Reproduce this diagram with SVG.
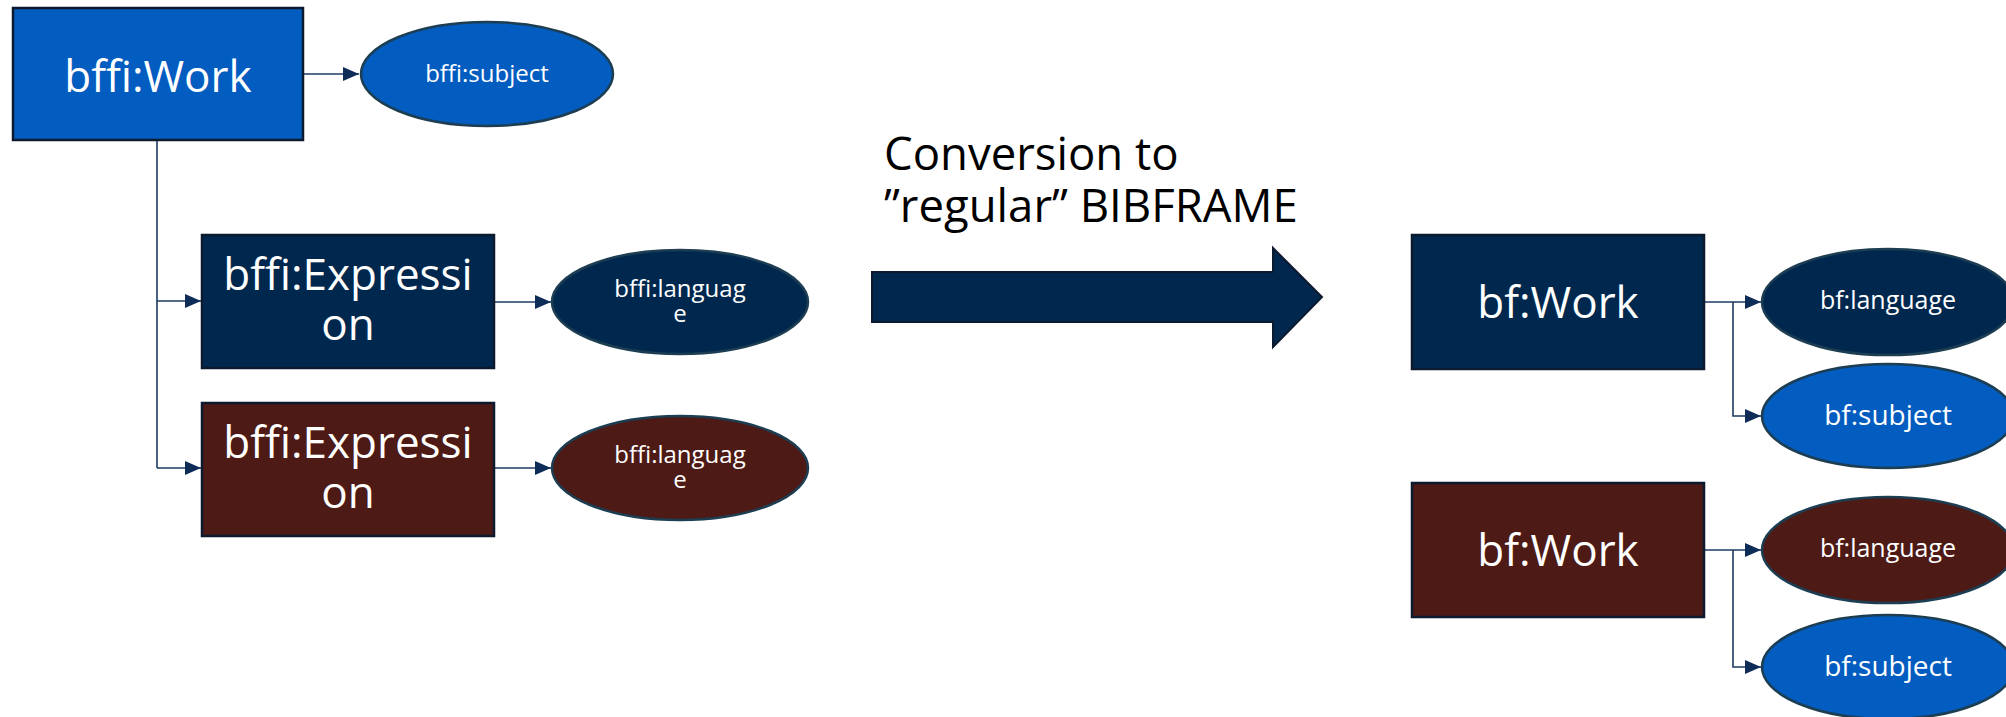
<svg xmlns="http://www.w3.org/2000/svg" width="2006" height="717" viewBox="0 0 2006 717">
<defs>
<style>
.box{stroke:#0b1a2e;stroke-width:2.5}
.ell{stroke:#1c3d52;stroke-width:2.5}
.blue{fill:#035cbf}
.navy{fill:#00284f}
.brown{fill:#4d1a15}
.t{font-family:"Open Sans","Noto Sans","Liberation Sans",sans-serif;fill:#ffffff;text-anchor:middle}
.big{font-size:44px}
.sm{font-size:24px}
.conn{fill:none;stroke:#1d3b62;stroke-width:1.6}
.title{font-family:"Open Sans","Noto Sans","Liberation Sans",sans-serif;font-size:45.5px;fill:#000000}
</style>
<marker id="ah" markerUnits="userSpaceOnUse" markerWidth="16" markerHeight="16" viewBox="0 0 16 16" refX="16" refY="8" orient="auto">
<path d="M0,1 L16,8 L0,15 Z" fill="#0d2c58"/>
</marker>
</defs>

<g id="connectors">
<path class="conn" d="M303,74 L359,74" marker-end="url(#ah)"/>
<path class="conn" d="M157,140 L157,468"/>
<path class="conn" d="M157,301 L201,301" marker-end="url(#ah)"/>
<path class="conn" d="M157,468 L201,468" marker-end="url(#ah)"/>
<path class="conn" d="M494,302 L551,302" marker-end="url(#ah)"/>
<path class="conn" d="M494,468 L551,468" marker-end="url(#ah)"/>
<path class="conn" d="M1704,302 L1761,302" marker-end="url(#ah)"/>
<path class="conn" d="M1733,302 L1733,416 L1761,416" marker-end="url(#ah)"/>
<path class="conn" d="M1704,550 L1761,550" marker-end="url(#ah)"/>
<path class="conn" d="M1733,550 L1733,667 L1761,667" marker-end="url(#ah)"/>
</g>

<g id="bffi-work">
<rect class="box blue" x="13" y="8" width="290" height="132"/>
<text class="t big" x="158" y="92">bffi:Work</text>
</g>
<g id="bffi-subject">
<ellipse class="ell blue" cx="487" cy="74" rx="126" ry="52"/>
<text class="t sm" x="487" y="82">bffi:subject</text>
</g>
<g id="bffi-expression-1">
<rect class="box navy" x="202" y="235" width="292" height="133"/>
<text class="t big" x="348" y="290">bffi:Expressi</text>
<text class="t big" x="348" y="340">on</text>
</g>
<g id="bffi-language-1">
<ellipse class="ell navy" cx="680" cy="302" rx="128" ry="52"/>
<text class="t sm" x="680" y="297">bffi:languag</text>
<text class="t sm" x="680" y="322">e</text>
</g>
<g id="bffi-expression-2">
<rect class="box brown" x="202" y="403" width="292" height="133"/>
<text class="t big" x="348" y="458">bffi:Expressi</text>
<text class="t big" x="348" y="508">on</text>
</g>
<g id="bffi-language-2">
<ellipse class="ell brown" cx="680" cy="468" rx="128" ry="52"/>
<text class="t sm" x="680" y="463">bffi:languag</text>
<text class="t sm" x="680" y="488">e</text>
</g>

<g id="conversion">
<text class="title" x="884" y="170">Conversion to</text>
<text class="title" x="884" y="222">”regular” BIBFRAME</text>
<polygon points="872,272 1273,272 1273,248 1322,297 1273,347 1273,322 872,322" fill="#00284f" stroke="#0b1a2e" stroke-width="2"/>
</g>

<g id="bf-work-1">
<rect class="box navy" x="1412" y="235" width="292" height="134"/>
<text class="t big" x="1558" y="318">bf:Work</text>
</g>
<g id="bf-language-1">
<ellipse class="ell navy" cx="1888" cy="302" rx="126" ry="53"/>
<text class="t" style="font-size:25px" x="1888" y="309">bf:language</text>
</g>
<g id="bf-subject-1">
<ellipse class="ell blue" cx="1888" cy="416" rx="126" ry="52"/>
<text class="t" style="font-size:28px" x="1888" y="425">bf:subject</text>
</g>
<g id="bf-work-2">
<rect class="box brown" x="1412" y="483" width="292" height="134"/>
<text class="t big" x="1558" y="566">bf:Work</text>
</g>
<g id="bf-language-2">
<ellipse class="ell brown" cx="1888" cy="550" rx="126" ry="53"/>
<text class="t" style="font-size:25px" x="1888" y="557">bf:language</text>
</g>
<g id="bf-subject-2">
<ellipse class="ell blue" cx="1888" cy="667" rx="126" ry="52"/>
<text class="t" style="font-size:28px" x="1888" y="676">bf:subject</text>
</g>
</svg>
